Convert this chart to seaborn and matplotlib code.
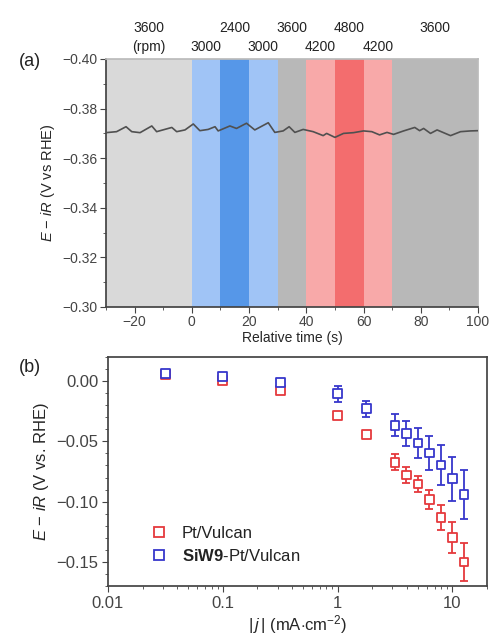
import numpy as np
import pandas as pd
import matplotlib
matplotlib.use("Agg")
import matplotlib.pyplot as plt
import seaborn as sns

# ---------------- data ----------------
# panel (a): potential vs relative time
time_s = [-30.0, -26.3, -23.0, -21.0, -18.1, -14.0, -12.3, -7.0, -5.3, -2.4, 0.5, 2.8,
          5.7, 8.1, 9.2, 13.3, 15.6, 19.1, 22.0, 26.7, 29.0, 31.9, 34.0, 36.0, 38.9,
          42.4, 45.9, 47.1, 50.0, 53.0, 56.5, 60.0, 62.9, 65.6, 68.2, 70.5, 74.0,
          77.9, 79.6, 81.0, 83.4, 85.7, 90.4, 93.9, 97.4, 100.0]
potential = [-0.3703, -0.3707, -0.3727, -0.3707, -0.3703, -0.3730, -0.3707, -0.3724,
             -0.3707, -0.3714, -0.3738, -0.3711, -0.3716, -0.3727, -0.3710, -0.3730,
             -0.3720, -0.3741, -0.3714, -0.3743, -0.3704, -0.3710, -0.3727, -0.3704,
             -0.3716, -0.3707, -0.3691, -0.3700, -0.3684, -0.3700, -0.3703, -0.3710,
             -0.3707, -0.3694, -0.3704, -0.3696, -0.3710, -0.3724, -0.3711, -0.3720,
             -0.3700, -0.3714, -0.3691, -0.3707, -0.3710, -0.3711]
band_edges = [-30, 0, 10, 20, 30, 40, 50, 60, 70, 100]
rpm_labels = ["3600", "3000", "2400", "3000", "3600", "4200", "4800", "4200", "3600"]
rpm_label_x = [-15, 5, 15, 25, 35, 45, 55, 65, 85]

# panel (b): polarisation points
current = [0.0316, 0.1, 0.316, 1.0, 1.78, 3.16, 3.98, 5.01, 6.31, 7.94, 10.0, 12.6]
pt_vulcan = [0.0055, 0.0008, -0.0080, -0.0283, -0.0444, -0.0674, -0.0779, -0.0854,
             -0.0984, -0.1130, -0.1300, -0.1500]
pt_vulcan_err = [0.0010, 0.0010, 0.0015, 0.0015, 0.0015, 0.0067, 0.0070, 0.0065,
                 0.0080, 0.0104, 0.0128, 0.0157]
siw9 = [0.0061, 0.0039, -0.0011, -0.0105, -0.0230, -0.0366, -0.0435, -0.0513,
        -0.0596, -0.0696, -0.0810, -0.0943]
siw9_err = [0.0012, 0.0015, 0.0015, 0.0068, 0.0065, 0.0093, 0.0107, 0.0125,
            0.0143, 0.0165, 0.0184, 0.0204]
series_names = ["Pt/Vulcan", r"$\mathbf{SiW9}$-Pt/Vulcan"]

# ---------------- style ----------------
sns.set_theme(style="ticks")
plt.rcParams["font.family"] = ["Liberation Sans", "DejaVu Sans"]
plt.rcParams["mathtext.fontset"] = "custom"
plt.rcParams["mathtext.rm"] = "Liberation Sans"
plt.rcParams["mathtext.it"] = "Liberation Sans:italic"
plt.rcParams["mathtext.bf"] = "Liberation Sans:bold"
plt.rcParams["axes.edgecolor"] = "#444444"
plt.rcParams["xtick.color"] = "#444444"
plt.rcParams["ytick.color"] = "#444444"
plt.rcParams["text.color"] = "#222222"

band_colors = ["#d9d9d9", "#a0c4f6", "#5697e8", "#a0c4f6", "#b8b8b8",
               "#f8a9a9", "#f36d6e", "#f8a9a9", "#b8b8b8"]
red = "#e5393d"
blue = "#3737cc"

fig = plt.figure(figsize=(4.9, 6.36), dpi=100)
ax1 = fig.add_axes([106 / 490, 1 - 307 / 636, 372 / 490, 248 / 636])
ax2 = fig.add_axes([108 / 490, 1 - 586 / 636, 379 / 490, 229 / 636])

# ---------- panel (a) ----------
for i in range(len(band_edges) - 1):
    ax1.axvspan(band_edges[i], band_edges[i + 1], color=band_colors[i], lw=0, zorder=0)
df_a = pd.DataFrame({"t": time_s, "E": potential})
sns.lineplot(data=df_a, x="t", y="E", ax=ax1, color="#505050", lw=1.2, zorder=3)
ax1.set_xlim(-30, 100)
ax1.set_ylim(-0.30, -0.40)
ax1.set_xticks([-20, 0, 20, 40, 60, 80, 100])
ax1.set_xticks(np.arange(-30, 101, 10), minor=True)
ax1.set_yticks([-0.40, -0.38, -0.36, -0.34, -0.32, -0.30])
ax1.set_yticks(np.arange(-0.40, -0.299, 0.01), minor=True)
ax1.yaxis.set_major_formatter(matplotlib.ticker.FuncFormatter(lambda v, p: f"{v:.2f}".replace("-", "\u2212")))
ax1.tick_params(axis="both", which="major", labelsize=10, length=4, width=0.8, pad=2)
ax1.tick_params(axis="both", which="minor", length=2, width=0.6)
ax1.set_xlabel("Relative time (s)", fontsize=10, labelpad=1)
ax1.set_ylabel(r"$\mathit{E}$ $-$ $\mathit{iR}$ (V vs RHE)", fontsize=10.5, labelpad=4)
for sp in ["top", "right"]:
    ax1.spines[sp].set_color("#bbbbbb")
trans = matplotlib.transforms.blended_transform_factory(ax1.transData, ax1.transAxes)
rows = [0, 1, 0, 1, 0, 1, 0, 1, 0]
for lab, xx, r in zip(rpm_labels, rpm_label_x, rows):
    ax1.text(xx, 1.125 if r == 0 else 1.048, lab, transform=trans, ha="center",
             va="center", fontsize=10, clip_on=False)
ax1.text(-15, 1.048, "(rpm)", transform=trans, ha="center", va="center", fontsize=10)
fig.text(30 / 490, 1 - 62 / 636, "(a)", fontsize=13, ha="center", va="center")

# ---------- panel (b) ----------
df_b = pd.DataFrame({
    "j": current * 2,
    "E": pt_vulcan + siw9,
    "err": pt_vulcan_err + siw9_err,
    "cat": [series_names[0]] * len(current) + [series_names[1]] * len(current),
})
pal = {series_names[0]: red, series_names[1]: blue}
for name in series_names:
    sub = df_b[df_b["cat"] == name]
    ax2.errorbar(sub["j"], sub["E"], yerr=sub["err"], fmt="none", ecolor=pal[name],
                 elinewidth=1.3, capsize=2.8, capthick=1.3, zorder=2)
n_before = len(ax2.collections)
sns.scatterplot(data=df_b, x="j", y="E", hue="cat", palette=pal, ax=ax2,
                marker="s", s=40, linewidth=1.3, zorder=3, legend=False)
for coll in ax2.collections[n_before:]:
    fc = coll.get_facecolors()
    coll.set_edgecolors(fc)
    coll.set_facecolors("white")
ax2.set_xscale("log")
ax2.set_xlim(0.01, 20)
ax2.set_ylim(-0.17, 0.02)
ax2.set_yticks([0.0, -0.05, -0.10, -0.15])
ax2.set_yticks(np.arange(-0.17, 0.021, 0.01), minor=True)
ax2.yaxis.set_major_formatter(matplotlib.ticker.FuncFormatter(lambda v, p: f"{v:.2f}".replace("-", "\u2212")))
ax2.set_xticks([0.01, 0.1, 1, 10])
ax2.set_xticklabels(["0.01", "0.1", "1", "10"])
ax2.tick_params(axis="both", which="major", labelsize=12, length=4, width=0.8, pad=3)
ax2.tick_params(axis="both", which="minor", length=2, width=0.6)
ax2.set_xlabel(r"|$\,\mathit{j}\,$| (mA$\cdot$cm$^{-2}$)", fontsize=12, labelpad=2)
ax2.set_ylabel(r"$\mathit{E}$ $-$ $\mathit{iR}$ (V vs. RHE)", fontsize=12, labelpad=4)
handles = [plt.Line2D([], [], marker="s", ls="none", mfc="white", mec=pal[n], mew=1.3,
                      ms=6.5) for n in series_names]
ax2.legend(handles, series_names, loc="lower left", bbox_to_anchor=(0.05, 0.03),
           frameon=False, fontsize=12, handletextpad=0.4, labelspacing=0.45)
fig.text(30 / 490, 1 - 368 / 636, "(b)", fontsize=13, ha="center", va="center")

fig.savefig("out.png", dpi=100)
